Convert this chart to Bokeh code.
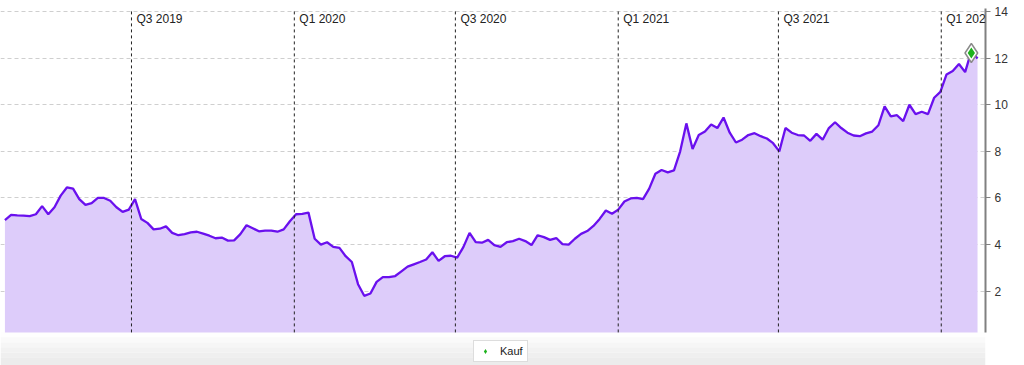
import pandas as pd
from bokeh.plotting import figure
from bokeh.models import (Range1d, FixedTicker, Label, Legend, LegendItem, LinearAxis, BoxAnnotation)
from bokeh.embed import file_html
from bokeh.resources import INLINE

# ---- data (weekly closing prices) ----
start_date = "2019-02-08"
price = [
    5.05, 5.27, 5.25, 5.24, 5.22, 5.30, 5.65, 5.30, 5.60, 6.10,
    6.45, 6.40, 5.95, 5.70, 5.78, 6.00, 6.00, 5.88, 5.60, 5.40,
    5.50, 5.95, 5.10, 4.93, 4.65, 4.68, 4.78, 4.50, 4.40, 4.45,
    4.52, 4.55, 4.47, 4.38, 4.27, 4.30, 4.17, 4.18, 4.45, 4.83,
    4.70, 4.57, 4.60, 4.60, 4.55, 4.65, 5.00, 5.30, 5.32, 5.37,
    4.25, 4.00, 4.10, 3.90, 3.86, 3.50, 3.25, 2.30, 1.80, 1.90,
    2.40, 2.60, 2.60, 2.65, 2.85, 3.05, 3.15, 3.25, 3.36, 3.67,
    3.30, 3.50, 3.52, 3.44, 3.89, 4.50, 4.10, 4.08, 4.20, 3.98,
    3.90, 4.10, 4.15, 4.25, 4.15, 3.98, 4.40, 4.32, 4.20, 4.28,
    4.02, 4.00, 4.25, 4.46, 4.58, 4.80, 5.10, 5.46, 5.32, 5.50,
    5.85, 5.98, 6.00, 5.95, 6.40, 7.04, 7.20, 7.10, 7.18, 8.00,
    9.20, 8.10, 8.70, 8.85, 9.15, 9.00, 9.45, 8.80, 8.38, 8.50,
    8.70, 8.78, 8.65, 8.55, 8.35, 8.00, 9.00, 8.80, 8.70, 8.68,
    8.45, 8.75, 8.50, 9.00, 9.25, 9.00, 8.80, 8.68, 8.65, 8.77,
    8.85, 9.12, 9.93, 9.50, 9.55, 9.30, 10.00, 9.60, 9.70, 9.60,
    10.30, 10.55, 11.30, 11.45, 11.75, 11.40, 12.30, 11.98,
]
dates = pd.date_range(start_date, periods=len(price), freq="7D")

kauf_dates = [pd.Timestamp("2022-02-04")]
kauf_values = [12.22]

quarter_dates = [pd.Timestamp(d) for d in
                 ["2019-07-01", "2020-01-01", "2020-07-01", "2021-01-01", "2021-07-01", "2022-01-01"]]
quarter_labels = ["Q3 2019", "Q1 2020", "Q3 2020", "Q1 2021", "Q3 2021", "Q1 2022"]
y_ticks = [2, 4, 6, 8, 10, 12, 14]

FONT = "Liberation Sans"
Y_TOP = 14.13
Y_BASE = 0.23      # bottom edge of the chart area
Y_LOW = -1.19      # lower edge of the legend strip

p = figure(
    width=1016, height=365,
    x_axis_type="datetime", x_axis_location=None, y_axis_location=None,
    x_range=Range1d(pd.Timestamp("2019-02-03"), pd.Timestamp("2022-02-20")),
    y_range=Range1d(Y_LOW, Y_TOP),
    output_backend="svg", toolbar_location=None,
    min_border_left=0, min_border_top=8, min_border_bottom=0, min_border_right=31,
)
p.outline_line_color = None
p.background_fill_color = "white"
p.border_fill_color = "white"
p.xgrid.visible = False

# soft grey gradient strip under the chart (legend area)
band_edges = [Y_BASE, 0.02, -0.20, -0.41, -0.63, -0.84, Y_LOW]
band_colors = ["#fefefe", "#fafafa", "#f6f6f6", "#f2f2f2", "#efefef", "#ececec"]
for top, bot, col in zip(band_edges[:-1], band_edges[1:], band_colors):
    p.add_layout(BoxAnnotation(top=top, bottom=bot, fill_color=col, fill_alpha=1.0,
                               line_color=None, level="underlay"))

yaxis = LinearAxis(ticker=FixedTicker(ticks=y_ticks), bounds=(Y_BASE, Y_TOP))
yaxis.axis_line_color = "#808080"
yaxis.axis_line_width = 2
yaxis.major_tick_line_color = "#808080"
yaxis.major_tick_line_width = 1
yaxis.major_tick_out = 5
yaxis.major_tick_in = 0
yaxis.minor_tick_line_color = None
yaxis.major_label_text_font = FONT
yaxis.major_label_text_font_size = "12px"
yaxis.major_label_text_color = "#333333"
yaxis.major_label_standoff = 4
p.add_layout(yaxis, "right")

p.ygrid.ticker = FixedTicker(ticks=y_ticks)
p.ygrid.grid_line_color = "#cfcfcf"
p.ygrid.grid_line_dash = "4 3"
p.ygrid.grid_line_width = 1

p.varea(x=dates, y1=Y_BASE, y2=price, fill_color="#ddccfa", fill_alpha=1.0)
p.line(x=dates, y=price, line_color="#6a10ee", line_width=2.3)

p.segment(x0=quarter_dates, y0=[Y_BASE] * len(quarter_dates),
          x1=quarter_dates, y1=[Y_TOP] * len(quarter_dates),
          line_color="#222222", line_dash="3 3", line_width=1)
for t, ql in zip(quarter_dates, quarter_labels):
    p.add_layout(Label(x=t, y=Y_TOP, x_units="data", y_units="data",
                       x_offset=5, y_offset=-17, text=ql,
                       text_font=FONT, text_font_size="12px", text_color="#222222"))

p.scatter(x=kauf_dates, y=kauf_values, marker="diamond", size=19,
          fill_color="white", line_color="#8a8a8a", line_width=1.5)
kauf = p.scatter(x=kauf_dates, y=kauf_values, marker="diamond", size=11,
                 fill_color="#1db31d", line_color=None)

legend = Legend(items=[LegendItem(label="Kauf", renderers=[kauf])],
                location=(473, 3), orientation="horizontal")
legend.label_text_font = FONT
legend.label_text_font_size = "11px"
legend.label_text_color = "#222222"
legend.border_line_color = "#bbbbbb"
legend.border_line_width = 1
legend.padding = 4
legend.margin = 0
legend.glyph_width = 14
legend.glyph_height = 12
legend.label_standoff = 8
legend.label_height = 12
legend.background_fill_color = "white"
legend.background_fill_alpha = 1.0
p.add_layout(legend, "center")

open("out.html", "w").write(file_html(p, INLINE))
